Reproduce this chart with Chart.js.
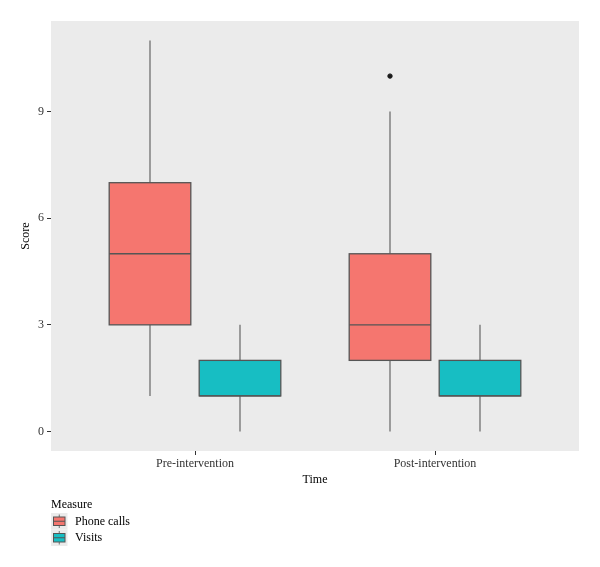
<!DOCTYPE html>
<html>
<head>
<meta charset="utf-8">
<script src="https://cdn.jsdelivr.net/npm/chart.js@4"></script>
<style>
  html, body { margin: 0; padding: 0; background: #fff; }
  #wrap { width: 600px; height: 567px; }
</style>
</head>
<body>
<div id="wrap"><canvas id="chart" width="600" height="567"></canvas></div>
<script>
const timeLabels = ["Pre-intervention", "Post-intervention"]
const measures = ["Phone calls", "Visits"]
const fillColors = ["#F5766F", "#17BEC3"]

// five-number summaries per time point
const phoneMin = [1, 0]
const phoneQ1 = [3, 2]
const phoneMed = [5, 3]
const phoneQ3 = [7, 5]
const phoneMax = [11, 9]
const phoneOutliers = [[], [10]]

const visitMin = [0, 0]
const visitQ1 = [1, 1]
const visitMed = [1, 1]
const visitQ3 = [2, 2]
const visitMax = [3, 3]
const visitOutliers = [[], []]

const yTicks = [0, 3, 6, 9]

const series = [
  { min: phoneMin, q1: phoneQ1, med: phoneMed, q3: phoneQ3, max: phoneMax, out: phoneOutliers },
  { min: visitMin, q1: visitQ1, med: visitMed, q3: visitQ3, max: visitMax, out: visitOutliers },
]

const dodge = 0.1875
const halfBox = 0.17
const xPos = (i, s) => i + 1 + (s === 0 ? -dodge : dodge)

const outlierPoints = []
series.forEach((sr, s) => {
  sr.out.forEach((vals, i) => vals.forEach((v) => outlierPoints.push({ x: xPos(i, s), y: v })))
})

const FONT = "'Liberation Serif', 'DejaVu Serif', serif"

const panelBg = {
  id: "panelBg",
  beforeDraw(chart) {
    const { ctx, chartArea: a } = chart
    ctx.save()
    ctx.fillStyle = "#EBEBEB"
    ctx.fillRect(a.left, a.top, a.right - a.left, a.bottom - a.top)
    ctx.restore()
  },
}

const boxes = {
  id: "boxes",
  beforeDatasetsDraw(chart) {
    const { ctx } = chart
    const xs = chart.scales.x
    const ys = chart.scales.y
    ctx.save()
    series.forEach((sr, s) => {
      timeLabels.forEach((_, i) => {
        const cx = xs.getPixelForValue(xPos(i, s))
        const l = xs.getPixelForValue(xPos(i, s) - halfBox)
        const r = xs.getPixelForValue(xPos(i, s) + halfBox)
        const yMin = ys.getPixelForValue(sr.min[i])
        const yQ1 = ys.getPixelForValue(sr.q1[i])
        const yMed = ys.getPixelForValue(sr.med[i])
        const yQ3 = ys.getPixelForValue(sr.q3[i])
        const yMax = ys.getPixelForValue(sr.max[i])
        // whiskers
        ctx.strokeStyle = "#707070"
        ctx.lineWidth = 1.3
        ctx.beginPath()
        ctx.moveTo(cx, yQ3)
        ctx.lineTo(cx, yMax)
        ctx.moveTo(cx, yQ1)
        ctx.lineTo(cx, yMin)
        ctx.stroke()
        // box
        ctx.fillStyle = fillColors[s]
        ctx.fillRect(l, yQ3, r - l, yQ1 - yQ3)
        ctx.strokeStyle = "#555"
        ctx.lineWidth = 1.3
        ctx.strokeRect(l, yQ3, r - l, yQ1 - yQ3)
        ctx.beginPath()
        ctx.moveTo(l, yMed)
        ctx.lineTo(r, yMed)
        ctx.stroke()
      })
    })
    ctx.restore()
  },
}

const legendBox = {
  id: "legendBox",
  afterDraw(chart) {
    const { ctx } = chart
    const x0 = 51
    ctx.save()
    ctx.font = "12px " + FONT
    ctx.fillStyle = "#000"
    ctx.textBaseline = "middle"
    ctx.textAlign = "left"
    ctx.fillText("Measure", x0, 505)
    measures.forEach((m, k) => {
      const top = 513 + k * 16.5
      ctx.fillStyle = "#EBEBEB"
      ctx.fillRect(x0, top, 16.5, 16.5)
      const cx = x0 + 8.25
      ctx.strokeStyle = "#707070"
      ctx.lineWidth = 1
      ctx.beginPath()
      ctx.moveTo(cx, top + 1.5)
      ctx.lineTo(cx, top + 15)
      ctx.stroke()
      ctx.fillStyle = fillColors[k]
      ctx.fillRect(x0 + 2.5, top + 4, 11.5, 8.5)
      ctx.strokeStyle = "#555"
      ctx.strokeRect(x0 + 2.5, top + 4, 11.5, 8.5)
      ctx.beginPath()
      ctx.moveTo(x0 + 2.5, top + 8.25)
      ctx.lineTo(x0 + 14, top + 8.25)
      ctx.stroke()
      ctx.fillStyle = "#000"
      ctx.fillText(m, x0 + 24, top + 8.5)
    })
    ctx.restore()
  },
}

new Chart(document.getElementById("chart").getContext("2d"), {
  type: "scatter",
  data: {
    datasets: [
      {
        label: "outliers",
        data: outlierPoints,
        backgroundColor: "#1a1a1a",
        borderColor: "#1a1a1a",
        pointRadius: 2.2,
        pointHoverRadius: 2.2,
      },
    ],
  },
  options: {
    responsive: false,
    animation: false,
    events: [],
    layout: { padding: { top: 21, right: 21, bottom: 78, left: 0 } },
    plugins: { legend: { display: false }, tooltip: { enabled: false } },
    scales: {
      x: {
        type: "linear",
        min: 0.4,
        max: 2.6,
        afterBuildTicks: (scale) => {
          scale.ticks = timeLabels.map((_, i) => ({ value: i + 1 }))
        },
        afterFit: (scale) => {
          scale.height = 38
        },
        ticks: {
          callback: (v) => timeLabels[Math.round(v) - 1],
          color: "#333",
          font: { family: FONT, size: 12 },
          padding: 2,
          maxRotation: 0,
        },
        grid: { drawOnChartArea: false, drawTicks: true, tickLength: 4, color: "#333" },
        border: { display: false },
        title: {
          display: true,
          text: "Time",
          color: "#000",
          font: { family: FONT, size: 12 },
          padding: { top: 4, bottom: 2 },
        },
      },
      y: {
        min: -0.55,
        max: 11.55,
        afterBuildTicks: (scale) => {
          scale.ticks = yTicks.map((v) => ({ value: v }))
        },
        afterFit: (scale) => {
          scale.width = 51
        },
        ticks: {
          color: "#333",
          font: { family: FONT, size: 12 },
          padding: 3,
        },
        grid: { drawOnChartArea: false, drawTicks: true, tickLength: 4, color: "#333" },
        border: { display: false },
        title: {
          display: true,
          text: "Score",
          color: "#000",
          font: { family: FONT, size: 12 },
          padding: { top: 19, bottom: 0 },
        },
      },
    },
  },
  plugins: [panelBg, boxes, legendBox],
})
</script>
</body>
</html>
